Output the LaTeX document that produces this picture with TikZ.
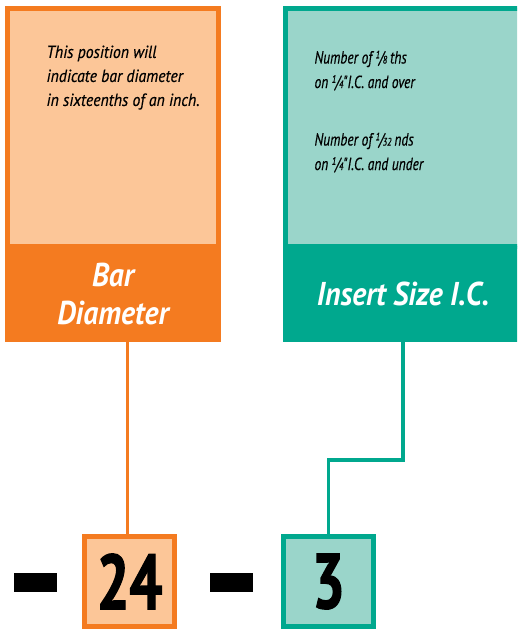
\documentclass[tikz,border=0pt]{standalone}
\usepackage{fontspec}
\setmainfont{PT Sans}
\newfontfamily\condfont{PT Sans}[FakeStretch=0.9, BoldFeatures={FakeBold=1.2}]
\newfontfamily\notefont{PT Sans}[FakeStretch=0.9, FakeBold=0.4]
\newfontfamily\narrowfont{PT Sans}[FakeStretch=0.77, FakeBold=0.4]
\newfontfamily\digitfont{PT Sans}[FakeStretch=0.74, BoldFeatures={FakeBold=1.6}]
\usepackage{xcolor}
\usepackage{graphicx}
\usepackage{tikz}
\definecolor{orangeD}{HTML}{F47B20}
\definecolor{orangeL}{HTML}{FCC698}
\definecolor{tealD}{HTML}{00A88E}
\definecolor{tealL}{HTML}{9AD5CA}
\newcommand{\fr}[2]{\raisebox{0.3em}{\scalebox{0.62}{#1}}\kern-0.05em/\kern-0.05em\scalebox{0.62}{#2}}
\tikzset{
  panel/.style={draw=#1, line width=5pt, inner sep=0pt},
  band/.style={fill=#1, inner sep=0pt, text=white, align=center,
    font=\condfont\bfseries\itshape\fontsize{33}{38}\selectfont},
  codebox/.style={draw=#1, line width=5pt, minimum width=90pt, minimum height=90pt,
    inner sep=0pt, font=\digitfont\bfseries\fontsize{78}{78}\selectfont},
  link/.style={draw=#1, line width=3.5pt},
  minusbar/.style={fill=black, minimum width=43pt, minimum height=19pt, inner sep=0pt}
}

\begin{document}
\begin{tikzpicture}[x=1pt,y=-1pt]
\useasboundingbox (0,0) rectangle (517,631);
\clip (0,0) rectangle (517,631);
\node[panel=orangeD, fill=orangeL, minimum width=211pt, minimum height=238pt] (barpanel) at (113,127.5) {};
\node[band=orangeD, minimum width=216pt, minimum height=96pt] (barband) at (113,294) {Bar\\Diameter};
\node[panel=tealD, fill=tealL, minimum width=240pt, minimum height=238pt] (icpanel) at (405.5,127.5) {};
\node[band=tealD, minimum width=245pt, minimum height=96pt] (icband) at (405.5,294) {\hspace*{-5pt}Insert Size I.C.};
\node[anchor=north west, align=left, font=\notefont\itshape\fontsize{17.5}{24}\selectfont] (bartext) at (43,42)
  {This position will\\indicate bar diameter\\in sixteenths of an inch.};
\node[anchor=north west, align=left, font=\narrowfont\itshape\fontsize{17.5}{24.5}\selectfont] (ictext) at (311,47)
  {Number of \fr{1}{8}\,ths\\on \fr{1}{4}"I.C. and over\\[33pt]Number of \fr{1}{32}\,nds\\on \fr{1}{4}"I.C. and under};
\node[codebox=orangeD, fill=orangeL] (code24) at (129.5,581.5) {24};
\node[codebox=tealD, fill=tealL] (code3) at (328.5,581.5) {3};
\node[minusbar] (minusA) at (35.5,582.5) {};
\node[minusbar] (minusB) at (231.5,582.5) {};
\draw[link=orangeD] ([xshift=-2pt]code24.north) -- ([xshift=-2pt]code24.north |- barband.south);
\draw[link=tealD] ([xshift=-2.5pt]icband.south) -- ++(0,118) -| (code3.north);
\end{tikzpicture}
\end{document}
